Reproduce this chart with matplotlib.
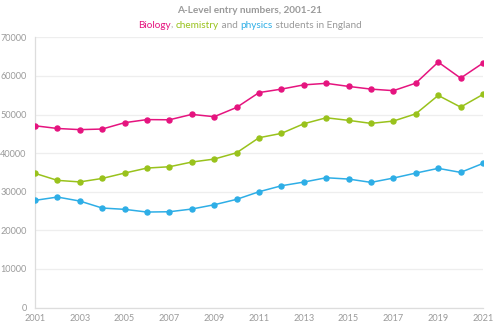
import numpy as np
import matplotlib
matplotlib.use("Agg")
import matplotlib.pyplot as plt

years = list(range(2001, 2022))
biology = [47100, 46400, 46100, 46250, 47900, 48700, 48650, 50050, 49450, 51850,
           55700, 56600, 57700, 58100, 57300, 56600, 56200, 58150, 63600, 59450, 63350]
chemistry = [34770, 32950, 32550, 33450, 34840, 36140, 36480, 37700, 38470, 40100,
             44000, 45130, 47620, 49170, 48500, 47720, 48320, 50200, 54970, 51940, 55230]
physics = [27770, 28630, 27590, 25780, 25440, 24740, 24820, 25520, 26630, 28030,
           30000, 31550, 32510, 33630, 33290, 32430, 33550, 34840, 36060, 35020, 37350]

pink = "#e5147f"
green = "#99c21c"
blue = "#2eaee6"
grey = "#9a9a9a"

plt.rcParams['font.family'] = ['Lato', 'DejaVu Sans']

fig = plt.figure(figsize=(5, 3.27), dpi=100)
ax = fig.add_axes([0.07, 0.0596, 0.896, 0.826])

for vals, col in [(biology, pink), (chemistry, green), (physics, blue)]:
    ax.plot(years, vals, color=col, lw=1.1, marker="o", markersize=3.6, zorder=3)

ax.set_xlim(2001, 2021)
ax.set_ylim(0, 70000)
ax.set_yticks(np.arange(0, 70001, 10000))
ax.set_xticks(range(2001, 2022, 2))
ax.grid(axis="y", color="#eeeeee", lw=0.9)
ax.set_axisbelow(True)
for s in ["top", "right"]:
    ax.spines[s].set_visible(False)
for s in ["left", "bottom"]:
    ax.spines[s].set_color("#dddddd")
    ax.spines[s].set_linewidth(0.9)
ax.tick_params(length=0, labelsize=6.6, colors=grey)
ax.tick_params(axis="x", pad=5)
ax.tick_params(axis="y", pad=6)

fig.text(0.5, 0.968, "A-Level entry numbers, 2001-21", ha="center", va="center",
         fontsize=7.2, fontweight="bold", color=grey)

# subtitle in coloured pieces, chained side by side
parts = [("Biology", pink), (", ", grey), ("chemistry", green), (" and ", grey),
         ("physics", blue), (" students in England", grey)]
pieces = []
prev = None
for i, (txt, col) in enumerate(parts):
    if i == 0:
        t = fig.text(0.3, 0.915, txt, ha="left", va="baseline", fontsize=7.2, color=col)
    else:
        t = fig.text(0, 0, txt, ha="left", va="baseline", fontsize=7.2, color=col)
    pieces.append(t)

fig.canvas.draw()
r = fig.canvas.get_renderer()
widths = [p.get_window_extent(r).width for p in pieces]
total = sum(widths)
x = 250 - total / 2
for p, w in zip(pieces, widths):
    p.set_position((x / 500, 0.915))
    x += w

fig.savefig("out.png", dpi=100)
